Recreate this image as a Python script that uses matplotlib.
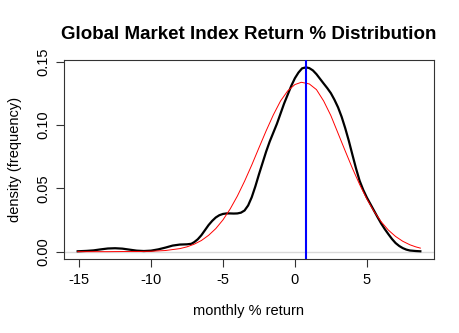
import matplotlib
matplotlib.use("Agg")
import matplotlib.pyplot as plt

# kernel density of monthly returns
dens_x = [-15.1, -14.5, -14.0, -13.5, -13.0, -12.5, -12.0, -11.5, -11.0, -10.5, -10.0, -9.5,
          -9.0, -8.5, -8.0, -7.5, -7.2, -7.0, -6.75, -6.5, -6.25, -6.0, -5.75, -5.5,
          -5.25, -5.0, -4.75, -4.5, -4.25, -4.0, -3.75, -3.5, -3.25, -3.0, -2.75, -2.5,
          -2.25, -2.0, -1.75, -1.5, -1.25, -1.0, -0.75, -0.5, -0.25, 0.0, 0.25, 0.5,
          0.77, 1.0, 1.25, 1.5, 1.75, 2.0, 2.25, 2.5, 2.75, 3.0, 3.25, 3.5,
          3.75, 4.0, 4.25, 4.5, 4.75, 5.0, 5.25, 5.5, 5.75, 6.0, 6.25, 6.5,
          6.75, 7.0, 7.25, 7.5, 7.75, 8.0, 8.4, 8.72]
dens_y = [0.0003, 0.0006, 0.0010, 0.0018, 0.0025, 0.0027, 0.0024, 0.0016, 0.0008, 0.0005, 0.0008, 0.0018,
          0.0032, 0.0048, 0.0056, 0.0058, 0.0062, 0.0075, 0.0098, 0.0130, 0.0170, 0.0210, 0.0243, 0.0270,
          0.0288, 0.0298, 0.0302, 0.0302, 0.0301, 0.0302, 0.0308, 0.0325, 0.0365, 0.0430, 0.0515, 0.0610,
          0.0700, 0.0790, 0.0870, 0.0940, 0.1010, 0.1090, 0.1170, 0.1240, 0.1310, 0.1370, 0.1415, 0.1448,
          0.1456, 0.1450, 0.1432, 0.1402, 0.1365, 0.1328, 0.1292, 0.1252, 0.1200, 0.1140, 0.1065, 0.0975,
          0.0875, 0.0765, 0.0657, 0.0560, 0.0488, 0.0428, 0.0376, 0.0324, 0.0272, 0.0222, 0.0178, 0.0138,
          0.0100, 0.0068, 0.0045, 0.0028, 0.0016, 0.0009, 0.0005, 0.0003]

# fitted normal curve
norm_x = [-15.1, -13.0, -12.0, -11.0, -10.0, -9.0, -8.0, -7.5, -7.0, -6.5, -6.0, -5.5,
          -5.0, -4.5, -4.0, -3.5, -3.0, -2.5, -2.0, -1.5, -1.0, -0.5, 0.0, 0.45,
          1.0, 1.5, 2.0, 2.5, 3.0, 3.5, 4.0, 4.5, 5.0, 5.5, 6.0, 6.5,
          7.0, 7.5, 8.0, 8.4, 8.72]
norm_y = [0.0000, 0.0000, 0.0001, 0.0001, 0.0003, 0.0009, 0.0024, 0.0038, 0.0059, 0.0088, 0.0129, 0.0182,
          0.0251, 0.0337, 0.0439, 0.0556, 0.0684, 0.0820, 0.0954, 0.1080, 0.1190, 0.1270, 0.1320, 0.1338,
          0.1325, 0.1280, 0.1190, 0.1075, 0.0935, 0.0795, 0.0658, 0.0531, 0.0417, 0.0318, 0.0236, 0.0170,
          0.0120, 0.0082, 0.0054, 0.0038, 0.0028]

mean_return = 0.77

font_family = ["Liberation Sans", "DejaVu Sans"]
plt.rcParams["font.family"] = font_family

fig = plt.figure(figsize=(4.6, 3.33), dpi=100)
ax = fig.add_axes([64 / 460, 1 - 259 / 333, 370 / 460, 199 / 333])

ax.axhline(0, color="#d9d9d9", lw=1, zorder=1)
ax.plot(dens_x, dens_y, color="black", lw=1.6, zorder=3)
ax.plot(norm_x, norm_y, color="red", lw=0.7, zorder=4)
ax.axvline(mean_return, color="blue", lw=1.5, zorder=5)

ax.set_xlim(-16.05, 9.67)
ax.set_ylim(-0.0058, 0.1514)
ax.set_xticks([-15, -10, -5, 0, 5])
ax.set_xticklabels(["-15", "-10", "-5", "0", "5"])
ax.set_yticks([0.0, 0.05, 0.10, 0.15])
ax.set_yticklabels(["0.00", "0.05", "0.10", "0.15"], rotation=90, va="center")
ax.tick_params(labelsize=10.5, length=6, width=0.8, color="#333333", pad=4)

for s in ax.spines.values():
    s.set_color("#333333")
    s.set_linewidth(0.8)

ax.set_xlabel("monthly % return", fontsize=10.5, labelpad=12)
ax.set_ylabel("density (frequency)", fontsize=10.5, labelpad=10)
ax.set_title("Global Market Index Return % Distribution", fontsize=13.5, fontweight="bold", pad=15)

fig.savefig("out.png", dpi=100)
